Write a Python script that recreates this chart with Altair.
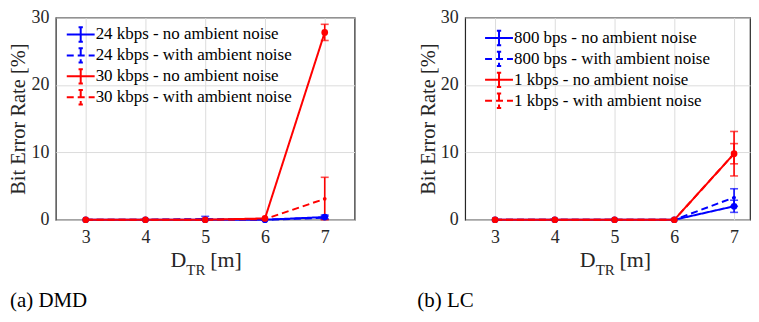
import altair as alt
import pandas as pd

# ---------------- data ----------------
x_vals = [3, 4, 5, 6, 7]

dmd_series = ["24 kbps - no ambient noise", "24 kbps - with ambient noise",
              "30 kbps - no ambient noise", "30 kbps - with ambient noise"]
dmd_y = [[0, 0, 0, 0, 0.4],
         [0, 0, 0.1, 0, 0.3],
         [0, 0, 0, 0.2, 27.8],
         [0, 0, 0, 0.1, 3.1]]
dmd_err = [[0, 0, 0, 0, 0.3],
           [0, 0, 0.4, 0, 0.2],
           [0, 0, 0, 0, 1.2],
           [0, 0, 0, 0, 3.2]]

lc_series = ["800 bps - no ambient noise", "800 bps - with ambient noise",
             "1 kbps - no ambient noise", "1 kbps - with ambient noise"]
lc_y = [[0, 0, 0, 0, 2.0],
        [0, 0, 0, 0, 3.3],
        [0, 0, 0, 0, 9.8],
        [0, 0, 0, 0, 9.8]]
lc_err = [[0, 0, 0, 0, 0.9],
          [0, 0, 0, 0, 1.3],
          [0, 0, 0, 0, 3.3],
          [0, 0, 0, 0, 1.5]]

y_ticks = [0, 10, 20, 30]

# ---------------- style ----------------
FONT = "Liberation Serif"
COLORS = ["#0000ff", "#0000ff", "#ff0000", "#ff0000"]
DASHES = [[1, 0], [7, 4], [1, 0], [7, 4]]
H = 203
LEG_PATH = ("M-1.75,0L1.75,0M0,-0.9L0,0.9M-0.27,-0.9L0.27,-0.9"
            "M-0.27,0.9L0.27,0.9")


def make_df(series, ys, errs):
    rows = []
    for i, s in enumerate(series):
        for xv, yv, ev in zip(x_vals, ys[i], errs[i]):
            rows.append({"series": s, "x": xv, "y": yv,
                         "lo": max(yv - ev, 0), "hi": yv + ev,
                         "err": ev, "solid": i % 2 == 0})
    return pd.DataFrame(rows)


def panel(series, ys, errs, caption, leg_x, leg_y, cap_x, width, xmax):
    df = make_df(series, ys, errs)
    xs = alt.Scale(domain=[2.5, xmax], nice=False, zero=False)
    ysc = alt.Scale(domain=[0, 30], nice=False)
    x_enc = alt.X("x:Q", scale=xs, axis=alt.Axis(
        values=x_vals, format="d", title=None, labelFont=FONT,
        labelFontSize=18, labelColor="#262626", labelPadding=9, ticks=False,
        domain=False, grid=True, gridColor="#dcdcdc", gridWidth=1))
    y_enc = alt.Y("y:Q", scale=ysc, axis=alt.Axis(
        values=y_ticks, format="d", title="Bit Error Rate [%]", titleFont=FONT,
        titleFontSize=20.5, titleFontWeight="normal", titleColor="#262626",
        titleX=-37, titleY=H / 2, titleAngle=-90, titleAlign="center",
        titleBaseline="middle",
        labelFont=FONT, labelFontSize=18, labelColor="#262626",
        labelPadding=7, ticks=False, domain=False, grid=True,
        gridColor="#dcdcdc", gridWidth=1))
    cscale = alt.Scale(domain=series, range=COLORS)
    dscale = alt.Scale(domain=series, range=DASHES)
    leg = alt.Legend(orient="none", legendX=leg_x, legendY=leg_y, title=None,
                     symbolType=LEG_PATH, symbolSize=256, symbolStrokeWidth=2,
                     symbolFillColor="transparent",
                     labelFont=FONT, labelFontSize=17, labelColor="#000000",
                     labelLimit=0, labelOffset=6, rowPadding=-6, padding=0)
    base = alt.Chart(df)
    lines = base.mark_line(strokeWidth=2).encode(
        x=x_enc, y=y_enc,
        color=alt.Color("series:N", scale=cscale, legend=leg),
        strokeDash=alt.StrokeDash("series:N", scale=dscale, legend=leg),
        order=alt.Order("x:Q"))
    nolegc = alt.Color("series:N", scale=cscale, legend=None)
    ebase = base.transform_filter("datum.err > 0")
    rules = ebase.mark_rule(strokeWidth=1.6).encode(
        x="x:Q", y="lo:Q", y2="hi:Q", color=nolegc)
    tlo = ebase.mark_tick(orient="horizontal", size=8, thickness=1.6).encode(
        x="x:Q", y="lo:Q", color=nolegc)
    thi = ebase.mark_tick(orient="horizontal", size=8, thickness=1.6).encode(
        x="x:Q", y="hi:Q", color=nolegc)
    pts_solid = base.transform_filter("datum.solid").mark_point(
        filled=True, size=45, opacity=1).encode(x="x:Q", y="y:Q", color=nolegc)
    pts_dash = base.transform_filter("!datum.solid").mark_point(
        filled=True, size=14, opacity=1).encode(x="x:Q", y="y:Q", color=nolegc)

    tdf = pd.DataFrame({"t": [caption]})
    tb = alt.Chart(tdf)
    t_d = tb.mark_text(text="D", font=FONT, fontSize=22, align="right",
                       baseline="alphabetic", color="#262626").encode(
        x=alt.value(131), y=alt.value(250))
    t_tr = tb.mark_text(text="TR", font=FONT, fontSize=15, align="left",
                        baseline="alphabetic", color="#262626").encode(
        x=alt.value(131), y=alt.value(258))
    t_m = tb.mark_text(text="[m]", font=FONT, fontSize=22, align="left",
                       baseline="alphabetic", color="#262626").encode(
        x=alt.value(155), y=alt.value(250))
    t_cap = tb.mark_text(font=FONT, fontSize=21, align="left",
                         baseline="middle", color="#000000").encode(
        text="t:N", x=alt.value(cap_x), y=alt.value(285))

    return alt.layer(lines, rules, tlo, thi, pts_dash, pts_solid,
                     t_d, t_tr, t_m, t_cap).resolve_scale(
        color="independent", strokeDash="independent").properties(
        width=width, height=H)


left = panel(dmd_series, dmd_y, dmd_err, "(a) DMD", 16, 8, -46, 300, 7.5)
right = panel(lc_series, lc_y, lc_err, "(b) LC", 25, 11.5, -48, 286, 7.2667)

chart = alt.hconcat(left, right, spacing=111, bounds="flush").properties(
    padding={"left": 0, "top": -1, "right": 0, "bottom": 0},
).configure(background="white", font=FONT).configure_view(
    stroke="#262626", strokeWidth=1.2).configure_axis(
    labelFont=FONT, titleFont=FONT).configure_legend(labelFont=FONT)

chart.save("out.html", embed_options={"renderer": "svg", "actions": False})
